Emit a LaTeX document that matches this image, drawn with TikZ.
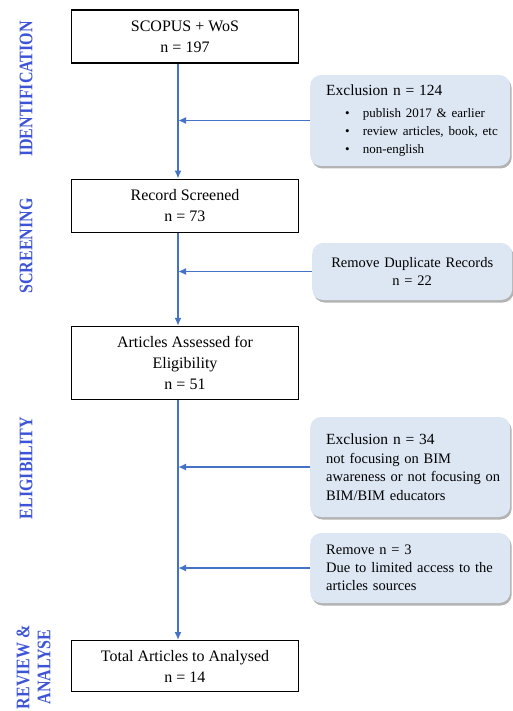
\documentclass[tikz,border=0pt]{standalone}
\usepackage{fontspec}
\setmainfont{Liberation Serif}
\usetikzlibrary{arrows.meta,positioning,shadows}

\definecolor{flowblue}{RGB}{68,114,196}
\definecolor{notefill}{RGB}{221,231,244}
\definecolor{phaseblue}{RGB}{61,84,214}

\begin{document}
\begin{tikzpicture}[
  x=1pt, y=-1pt,
  stage/.style={draw, line width=1.2pt, minimum width=227pt, minimum height=53pt, align=center,
    font=\fontsize{16}{21}\selectfont},
  note/.style={fill=notefill, rounded corners=11pt, anchor=west, text width=184pt, inner xsep=8pt,
    align=left, font=\fontsize{14.5}{18}\selectfont,
    drop shadow={shadow xshift=1.5pt, shadow yshift=-2.5pt, fill=black!50, opacity=0.6}},
  phase/.style={rotate=90, yscale=1.2, text=phaseblue, align=center, font=\fontsize{16}{17.5}\selectfont\bfseries},
  arr/.style={-{Latex[length=8pt,width=7pt]}, line width=1.6pt, draw=flowblue, fill=flowblue}
]
\useasboundingbox (0,0) rectangle (513,711);
\coordinate (spine) at (178,0);

\node[stage] (src) at (185,36.5) {SCOPUS + WoS\\n = 197};
\node[stage, below=115pt of src] (scr) {Record Screened\\n = 73};
\node[stage, minimum height=73pt, below=93pt of scr] (elig) {Articles Assessed for\\Eligibility\\n = 51};
\node[stage, minimum height=51pt, below=240pt of elig] (total) {Total Articles to Analysed\\n = 14};

\node[note, minimum height=91pt] (excl1) at (310,120.5) {\hspace*{8pt}{\fontsize{15.5}{19}\selectfont Exclusion n = 124}\\[4pt]
  {\fontsize{13}{18}\selectfont\hspace*{27pt}\textbullet\hspace{13pt}publish 2017 \& earlier}\\
  {\fontsize{13}{18}\selectfont\hspace*{27pt}\textbullet\hspace{13pt}review articles, book, etc}\\
  {\fontsize{13}{18}\selectfont\hspace*{27pt}\textbullet\hspace{13pt}non-english}};
\node[note, minimum height=57pt, align=center] (dupl) at (312,271.5) {Remove Duplicate Records\\n = 22};
\node[note, minimum height=100pt, font=\fontsize{14.5}{18.5}\selectfont] (excl2) at (310,467) {\hspace*{8pt}{\fontsize{15.5}{18.5}\selectfont Exclusion n = 34}\\\hspace*{8pt}not focusing on BIM\\\hspace*{8pt}awareness or not focusing on\\\hspace*{8pt}BIM/BIM educators};
\node[note, minimum height=70pt] (remv) at (310,568) {\hspace*{8pt}Remove n = 3\\\hspace*{8pt}Due to limited access to the\\\hspace*{8pt}articles sources};

\node[phase] (idlab) at (26,89) {IDENTIFICATION};
\node[phase] (scrlab) at (26,246) {SCREENING};
\node[phase] (eliglab) at (26,468) {ELIGIBILITY};
\node[phase] (revlab) at (33.5,667) {REVIEW \&\\ANALYSE};

\draw[arr] (src.south -| spine) -- (scr.north -| spine);
\draw[arr] (scr.south -| spine) -- (elig.north -| spine);
\draw[arr] (elig.south -| spine) -- (total.north -| spine);
\draw[arr] (excl1.west) -- (excl1.west -| spine);
\draw[arr] (dupl.west) -- (dupl.west -| spine);
\draw[arr] (excl2.west) -- (excl2.west -| spine);
\draw[arr] (remv.west) -- (remv.west -| spine);
\end{tikzpicture}
\end{document}
